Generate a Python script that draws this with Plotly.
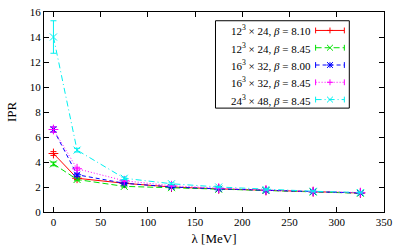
import plotly.graph_objects as go

# ---- data ----
lam = [0, 25, 75, 125, 175, 225, 275, 325]
labels = [
    "12<sup>3</sup> × 24, <i>β</i> = 8.10",
    "12<sup>3</sup> × 24, <i>β</i> = 8.45",
    "16<sup>3</sup> × 32, <i>β</i> = 8.00",
    "16<sup>3</sup> × 32, <i>β</i> = 8.45",
    "24<sup>3</sup> × 48, <i>β</i> = 8.45",
]
ipr_a = [4.68, 2.70, 2.30, 2.00, 1.85, 1.72, 1.62, 1.52]
err_a = [0.15, 0.10, 0.06, 0.05, 0.04, 0.04, 0.04, 0.04]
ipr_b = [3.85, 2.60, 2.05, 1.95, 1.82, 1.72, 1.60, 1.50]
err_b = [0.15, 0.10, 0.06, 0.05, 0.04, 0.04, 0.04, 0.04]
ipr_c = [6.60, 2.98, 2.30, 2.00, 1.85, 1.72, 1.62, 1.52]
err_c = [0.20, 0.12, 0.07, 0.05, 0.04, 0.04, 0.04, 0.04]
ipr_d = [6.60, 3.46, 2.50, 2.10, 1.90, 1.75, 1.63, 1.55]
err_d = [0.20, 0.12, 0.07, 0.05, 0.04, 0.04, 0.04, 0.04]
ipr_e = [14.0, 4.95, 2.70, 2.26, 2.00, 1.80, 1.66, 1.56]
err_e = [1.30, 0.15, 0.10, 0.07, 0.05, 0.05, 0.04, 0.04]
xticks = [0, 50, 100, 150, 200, 250, 300, 350]
yticks = [0, 2, 4, 6, 8, 10, 12, 14, 16]

series = [ipr_a, ipr_b, ipr_c, ipr_d, ipr_e]
errors = [err_a, err_b, err_c, err_d, err_e]
colors = ["#ff0000", "#00e000", "#0000ff", "#ff00ff", "#00f0f0"]
dashes = ["solid", "6px,3px", "4px,3px", "1px,2px", "6px,3px,1px,3px"]
symbols = ["cross-thin-open", "x-thin-open", "asterisk-open", "cross-thin-open", "x-thin-open"]
glyphs = ["+", "x", "*", "+", "x"]

FONT = "Liberation Serif"
W, H = 399, 249
ML, MR, MT, MB = 44, 12, 6, 37
PW, PH = W - ML - MR, H - MT - MB

fig = go.Figure()
for ys, es, c, d, s in zip(series, errors, colors, dashes, symbols):
    fig.add_trace(go.Scatter(
        x=lam, y=ys, mode="lines+markers",
        line=dict(color=c, width=1, dash=d),
        marker=dict(symbol=s, size=7, line=dict(color=c, width=1)),
        error_y=dict(type="data", array=es, color=c, thickness=1, width=3),
        showlegend=False,
    ))

# ---- custom legend (key sample to the right of the text, as in the original) ----
def px_x(px):
    return (px - ML) / PW

def px_y(py):
    return (H - MB - py) / PH

def seg(x0, y0, x1, y1, c, dash="solid"):
    fig.add_shape(type="line", xref="paper", yref="paper",
                  x0=px_x(x0), y0=px_y(y0), x1=px_x(x1), y1=px_y(y1),
                  line=dict(color=c, width=1, dash=dash), layer="above")

box_l, box_r, box_t, box_b = 217, 352, 15, 105
row0, row_step = 25, 17.8
text_right = 315
samp_l, samp_r = 318, 347
r = 3

fig.add_shape(type="rect", xref="paper", yref="paper",
              x0=px_x(box_l), x1=px_x(box_r), y0=px_y(box_b), y1=px_y(box_t),
              line=dict(color="black", width=1), fillcolor="white", layer="above")

for i, (lab, c, d, g) in enumerate(zip(labels, colors, dashes, glyphs)):
    py = row0 + i * row_step
    fig.add_annotation(xref="paper", yref="paper", x=px_x(text_right), y=px_y(py),
                       text=lab, showarrow=False, xanchor="right", yanchor="middle",
                       font=dict(family=FONT, size=11, color="black"))
    seg(samp_l, py, samp_r, py, c, d)
    seg(samp_l, py - r, samp_l, py + r, c)
    seg(samp_r, py - r, samp_r, py + r, c)
    mx = (samp_l + samp_r) / 2
    if g in "+*":
        seg(mx - r, py, mx + r, py, c)
        seg(mx, py - r, mx, py + r, c)
    if g in "x*":
        seg(mx - r, py - r, mx + r, py + r, c)
        seg(mx - r, py + r, mx + r, py - r, c)

fig.update_layout(
    width=W, height=H,
    margin=dict(l=ML, r=MR, t=MT, b=MB),
    paper_bgcolor="white", plot_bgcolor="white",
    font=dict(family=FONT, size=11, color="black"),
    xaxis=dict(range=[-10, 350], tickvals=xticks, ticks="inside", ticklen=5,
               tickcolor="black", mirror="ticks", showline=True, linecolor="black",
               linewidth=1, showgrid=False, zeroline=False,
               title=dict(text="λ [MeV]", standoff=6)),
    yaxis=dict(range=[0, 16], tickvals=yticks, ticks="inside", ticklen=5,
               tickcolor="black", mirror="ticks", showline=True, linecolor="black",
               linewidth=1, showgrid=False, zeroline=False,
               title=dict(text="IPR", standoff=10)),
)

fig.write_html("out.html", config={"displayModeBar": False},
               post_script="document.body.style.margin='0';")
